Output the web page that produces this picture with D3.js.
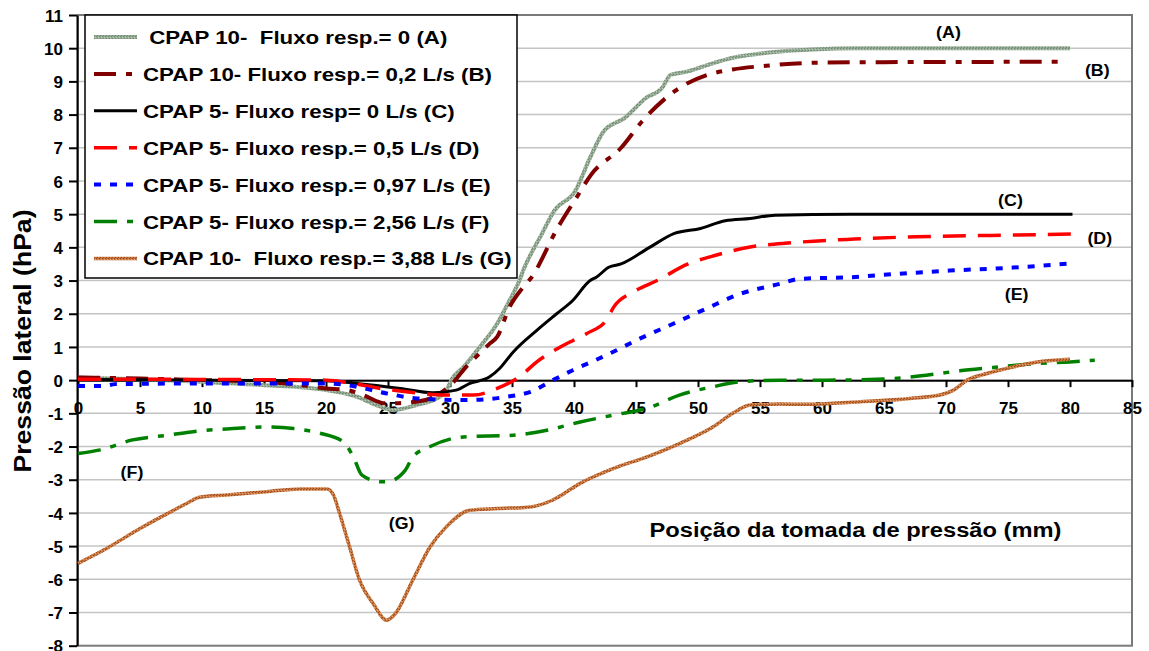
<!DOCTYPE html>
<html>
<head>
<meta charset="utf-8">
<script src="https://cdn.jsdelivr.net/npm/d3@7"></script>
<style>
  body { margin: 0; background: #fff; }
  text { font-family: "Liberation Sans", Arial, sans-serif; font-weight: bold; fill: #000; }
</style>
</head>
<body>
<div id="vis"></div>
<script>
// ==== DATA ====
const xTickLabels = [0, 5, 10, 15, 20, 25, 30, 35, 40, 45, 50, 55, 60, 65, 70, 75, 80, 85];
const yTickLabels = [-8, -7, -6, -5, -4, -3, -2, -1, 0, 1, 2, 3, 4, 5, 6, 7, 8, 9, 10, 11];

const seriesNames = [
  " CPAP 10-  Fluxo resp.= 0 (A)",
  "CPAP 10- Fluxo resp.= 0,2 L/s (B)",
  "CPAP 5- Fluxo resp= 0 L/s (C)",
  "CPAP 5- Fluxo resp.= 0,5 L/s (D)",
  "CPAP 5- Fluxo resp.= 0,97 L/s (E)",
  "CPAP 5- Fluxo resp.= 2,56 L/s (F)",
  "CPAP 10-  Fluxo resp.= 3,88 L/s (G)"
];
const curveTags = ["(A)", "(B)", "(C)", "(D)", "(E)", "(F)", "(G)"];
// where each tag sits, in data units [mm, hPa]
const tagPos = [[70.2, 10.48], [82.2, 9.34], [75.2, 5.42], [82.4, 4.28], [75.7, 2.59], [4.35, -2.77], [26.1, -4.31]];

// [posição mm, pressão hPa]
const serieA = [[0, 0.08], [5, 0.03], [10, -0.05], [15, -0.15], [20, -0.3], [22.5, -0.5], [24.4, -0.8], [25.4, -0.9],
  [27.3, -0.75], [29.2, -0.5], [29.8, -0.25], [30.1, 0], [31.1, 0.4], [32.4, 1.0], [33.8, 1.7], [34.8, 2.4], [35.6, 3.0],
  [35.9, 3.3], [37.4, 4.4], [38.4, 5.1], [40.1, 5.7], [41.3, 6.7], [42.4, 7.5], [44.1, 7.9], [45.8, 8.5], [47.1, 8.8],
  [47.8, 9.2], [49.2, 9.3], [50.8, 9.5], [53.2, 9.74], [55.5, 9.86], [59.2, 9.96], [62.6, 10.0], [70, 10.0], [80, 10.0]];
const serieB = [[0, 0.08], [5, 0.05], [10, 0.0], [15, -0.05], [18, -0.15], [20, -0.25], [21.7, -0.3], [23, -0.45],
  [24.8, -0.7], [27.3, -0.65], [29.2, -0.4], [30.3, -0.05], [31.3, 0.4], [32.1, 0.7], [33.2, 1.1], [33.8, 1.3],
  [34.8, 2.2], [35.9, 2.8], [36.5, 3.06], [38.7, 4.6], [40.2, 5.5], [41.4, 6.2], [43.8, 7.0], [45.5, 7.8], [48.1, 8.7],
  [50.8, 9.2], [52.8, 9.36], [55.5, 9.47], [59.2, 9.56], [65, 9.58], [79.3, 9.59]];
const serieC = [[0, 0.02], [10, 0.0], [20, -0.02], [22.5, -0.1], [26, -0.25], [28.6, -0.38], [30.5, -0.3], [31.6, -0.1],
  [33.2, 0.1], [34, 0.35], [35.1, 0.85], [37, 1.5], [38.6, 2.0], [39.9, 2.4], [41.3, 3.0], [41.8, 3.1], [42.8, 3.4],
  [43.8, 3.5], [46.1, 4.0], [48.1, 4.42], [50.2, 4.57], [52.2, 4.8], [54.2, 4.87], [56.2, 4.97], [62.3, 5.0], [80.2, 5.0]];
const serieD = [[0, 0.03], [10, 0.02], [20, 0.0], [22.2, -0.1], [24.4, -0.25], [27, -0.37], [29.7, -0.45], [31.9, -0.45],
  [33.8, -0.25], [35.6, 0.1], [37, 0.55], [38.9, 1.0], [41, 1.4], [42.6, 1.8], [43.2, 2.2], [44.8, 2.66], [46.7, 3.0],
  [49.2, 3.5], [51.5, 3.77], [54.2, 4.01], [57.6, 4.14], [62.6, 4.25], [67.6, 4.32], [73.7, 4.36], [80.1, 4.4]];
const serieE = [[0, -0.18], [2, -0.18], [3, -0.12], [10, -0.1], [20, -0.1], [21.7, -0.15], [24.9, -0.4], [27.3, -0.55],
  [31.3, -0.6], [34.6, -0.5], [36.5, -0.35], [38.3, 0], [39.9, 0.3], [42.6, 0.75], [45.3, 1.25], [48, 1.7], [50.7, 2.16],
  [53.4, 2.6], [56.6, 2.9], [58.2, 3.05], [62.3, 3.1], [66, 3.2], [70.3, 3.3], [75.4, 3.39], [80.4, 3.53]];
const serieF = [[0, -2.21], [1.8, -2.1], [4.4, -1.8], [7.2, -1.66], [9.8, -1.53], [12.5, -1.46], [15.2, -1.41],
  [17.4, -1.46], [19.5, -1.6], [21.4, -1.86], [22.2, -2.31], [22.9, -2.86], [24.4, -3.06], [24.9, -3.06], [26.4, -2.71],
  [27, -2.31], [28.4, -2.0], [31.1, -1.71], [35.1, -1.66], [37.8, -1.51], [40.5, -1.26], [43.2, -1.05], [45.9, -0.85],
  [48.5, -0.45], [51.2, -0.2], [53.4, -0.05], [56.6, 0], [60.4, 0], [65.8, 0.05], [68.4, 0.15], [71.1, 0.28],
  [73.8, 0.38], [76.5, 0.48], [80, 0.55], [82, 0.6]];
const serieG = [[0, -5.52], [2.3, -5.07], [5, -4.47], [7.2, -4.02], [8.8, -3.71], [9.8, -3.53], [12, -3.46], [15.2, -3.36],
  [17.9, -3.28], [20.1, -3.28], [20.6, -3.46], [21.1, -4.02], [21.9, -5.02], [22.7, -6.02], [23.8, -6.73], [24.9, -7.23],
  [25.6, -7.03], [27, -6.02], [28.4, -5.02], [29.7, -4.42], [31.6, -3.92], [33.8, -3.87], [36.5, -3.82], [38.3, -3.61],
  [40.5, -3.11], [43.2, -2.66], [45.9, -2.31], [48.5, -1.91], [51.2, -1.41], [52.8, -1.0], [54.2, -0.75], [56.6, -0.72],
  [58.5, -0.73], [63.1, -0.65], [67.1, -0.55], [69.5, -0.45], [70.6, -0.3], [71.7, 0], [73.3, 0.2], [75.2, 0.38],
  [77.8, 0.57], [80, 0.63]];

const allSeries = [serieA, serieB, serieC, serieD, serieE, serieF, serieG];

// ==== STYLES ====
const styles = [
  { stroke: "url(#texA)", width: 4, dash: null },
  { stroke: "#800000", width: 4, dash: "22,10,6,10" },
  { stroke: "#000000", width: 3, dash: null },
  { stroke: "#ff0000", width: 3.5, dash: "23,12" },
  { stroke: "#0000ff", width: 4, dash: "7,9" },
  { stroke: "#008000", width: 3.5, dash: "23,10,6,10" },
  { stroke: "url(#texG)", width: 3.5, dash: null }
];

// ==== SETUP ====
const width = 1149, height = 651;
const svg = d3.select("#vis").append("svg")
  .attr("width", width)
  .attr("height", height);

const x = d3.scaleLinear().domain([0, 85]).range([78, 1132]);
const y = d3.scaleLinear().domain([-8, 11]).range([645.7, 15]);

// textured strokes (Excel style)
const defs = svg.append("defs");
function texture(id, base, dark, light) {
  const p = defs.append("pattern").attr("id", id)
    .attr("patternUnits", "userSpaceOnUse").attr("width", 3).attr("height", 3);
  p.append("rect").attr("width", 3).attr("height", 3).attr("fill", base);
  p.append("rect").attr("x", 0).attr("y", 0).attr("width", 1).attr("height", 1).attr("fill", dark);
  p.append("rect").attr("x", 2).attr("y", 1).attr("width", 1).attr("height", 1).attr("fill", light);
  p.append("rect").attr("x", 1).attr("y", 2).attr("width", 1).attr("height", 1).attr("fill", dark);
}
texture("texA", "#94aa94", "#6f8c6f", "#bccabc");
texture("texG", "#c7773f", "#9c4a1c", "#e3a070");

// ==== GRID + FRAME ====
svg.append("g").selectAll("line")
  .data(yTickLabels.filter(d => d > -8 && d < 11))
  .enter().append("line")
  .attr("x1", x(0)).attr("x2", x(85))
  .attr("y1", d => y(d)).attr("y2", d => y(d))
  .attr("stroke", "#c4c4c4").attr("stroke-width", 1.5);

svg.append("rect")
  .attr("x", x(0)).attr("y", y(11))
  .attr("width", x(85) - x(0)).attr("height", y(-8) - y(11))
  .attr("fill", "none").attr("stroke", "#7a7a7a").attr("stroke-width", 2);

// ==== AXES ====
const yAxis = svg.append("g")
  .attr("transform", `translate(${x(0) - 1},0)`)
  .call(d3.axisLeft(y).tickValues(yTickLabels).tickSize(8).tickSizeOuter(0).tickFormat(d => d));
yAxis.select(".domain").attr("stroke", "#000").attr("stroke-width", 2);
yAxis.selectAll(".tick line").attr("stroke", "#000").attr("stroke-width", 2);
yAxis.selectAll(".tick text").attr("x", -14).attr("dy", "0.36em")
  .style("font-size", "17px").style("font-family", null);

const xAxis = svg.append("g")
  .attr("transform", `translate(0,${y(0)})`)
  .call(d3.axisBottom(x).tickValues(xTickLabels).tickSize(7).tickSizeOuter(0).tickFormat(d => d));
xAxis.select(".domain").attr("stroke", "#000").attr("stroke-width", 2);
xAxis.selectAll(".tick line").attr("stroke", "#000").attr("stroke-width", 2);
xAxis.selectAll(".tick text").attr("y", 33.5).attr("dy", null)
  .style("font-size", "17px").style("font-family", null);
svg.selectAll(".tick text").attr("fill", "#000");

// ==== SERIES ====
const line = d3.line()
  .x(d => x(d[0]))
  .y(d => y(d[1]))
  .curve(d3.curveMonotoneX);

allSeries.forEach((s, i) => {
  svg.append("path")
    .attr("d", line(s))
    .attr("fill", "none")
    .attr("stroke", styles[i].stroke)
    .attr("stroke-width", styles[i].width)
    .attr("stroke-dasharray", styles[i].dash)
    .attr("stroke-linejoin", "round");
});

// ==== CURVE TAGS ====
svg.append("g").selectAll("text")
  .data(curveTags)
  .enter().append("text")
  .attr("transform", (d, i) => `translate(${x(tagPos[i][0])},${y(tagPos[i][1]) + 5.5}) scale(1.08,1)`)
  .attr("text-anchor", "middle")
  .style("font-size", "16.5px")
  .text(d => d);

// ==== AXIS TITLES ====
svg.append("text")
  .attr("transform", "translate(855.5,537) scale(1.156,1)")
  .attr("text-anchor", "middle")
  .style("font-size", "20.5px")
  .text("Posição da tomada de pressão (mm)");

svg.append("text")
  .attr("transform", "translate(31,341) rotate(-90)")
  .attr("text-anchor", "middle")
  .attr("textLength", 263)
  .attr("lengthAdjust", "spacingAndGlyphs")
  .style("font-size", "24px")
  .text("Pressão lateral (hPa)");

// ==== LEGEND ====
const legend = svg.append("g");
legend.append("rect")
  .attr("x", 85).attr("y", 15).attr("width", 432).attr("height", 263)
  .attr("fill", "#fff").attr("stroke", "#000").attr("stroke-width", 1.5);

seriesNames.forEach((name, i) => {
  const base = 44 + i * 36.9;
  legend.append("line")
    .attr("x1", 94).attr("x2", 137)
    .attr("y1", base - 7).attr("y2", base - 7)
    .attr("stroke", styles[i].stroke)
    .attr("stroke-width", styles[i].width)
    .attr("stroke-dasharray", styles[i].dash);
  legend.append("text")
    .attr("transform", `translate(143,${base}) scale(1.205,1)`)
    .style("font-size", "18.5px")
    .style("white-space", "pre")
    .text(name);
});
</script>
</body>
</html>
